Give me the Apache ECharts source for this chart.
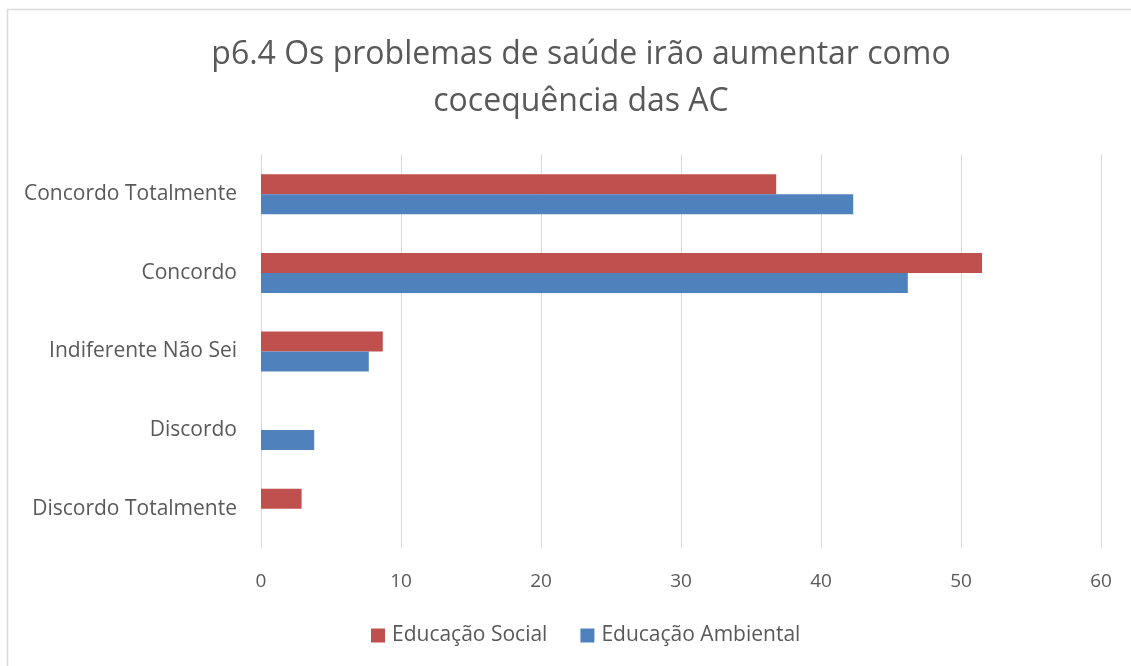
<!DOCTYPE html>
<html>
<head>
<meta charset="utf-8">
<script src="https://cdn.jsdelivr.net/npm/echarts@6/dist/echarts.min.js"></script>
<style>
  html, body { margin: 0; padding: 0; background: #fff; }
  #chart { width: 1131px; height: 666px; }
</style>
</head>
<body>
<div id="chart"></div>
<script>
var categories = ['Concordo Totalmente', 'Concordo', 'Indiferente Não Sei', 'Discordo', 'Discordo Totalmente'];
var seriesNames = ['Educação Social', 'Educação Ambiental'];
var social = [36.8, 51.5, 8.7, 0, 2.9];
var ambiental = [42.3, 46.2, 7.7, 3.8, 0];
var xTicks = [0, 10, 20, 30, 40, 50, 60];

var red = '#c0504d';
var blue = '#4f81bd';
var textColor = '#595959';
var fontFam = '"Open Sans", "Noto Sans", sans-serif';

var myChart = echarts.init(document.getElementById('chart'), null, { renderer: 'canvas' });

var option = {
  backgroundColor: '#fff',
  animation: false,
  // chart frame, cropped on the right and bottom
  graphic: [
    {
      type: 'polyline',
      shape: { points: [[7.5, 666], [7.5, 9.5], [1131, 9.5]] },
      style: { fill: 'none', stroke: '#d9d9d9', lineWidth: 1.5 },
      silent: true
    }
  ],
  title: {
    text: 'p6.4 Os problemas de saúde irão aumentar como\ncocequência das AC',
    left: 576,
    top: 26,
    textAlign: 'center',
    textStyle: {
      color: textColor,
      fontSize: 32,
      fontWeight: 'normal',
      fontFamily: fontFam,
      lineHeight: 47
    }
  },
  legend: {
    top: 620,
    left: 366,
    itemWidth: 14,
    itemHeight: 14,
    itemGap: 33,
    icon: 'rect',
    data: seriesNames,
    textStyle: { color: textColor, fontSize: 21, fontFamily: fontFam, padding: [0, 0, 0, 2] }
  },
  grid: { left: 261, right: 30, top: 155, bottom: 118 },
  xAxis: {
    type: 'value',
    min: xTicks[0],
    max: xTicks[xTicks.length - 1],
    interval: 10,
    axisLine: { show: false },
    axisTick: { show: false },
    splitLine: { lineStyle: { color: '#d9d9d9', width: 1 } },
    axisLabel: { color: textColor, fontSize: 19, fontFamily: fontFam, margin: 24 }
  },
  yAxis: {
    type: 'category',
    inverse: true,
    data: categories,
    axisLine: { show: false },
    axisTick: { show: false },
    axisLabel: { color: textColor, fontSize: 21, fontFamily: fontFam, margin: 24 }
  },
  series: [
    {
      name: seriesNames[0],
      type: 'bar',
      data: social,
      barWidth: 20,
      barGap: '0%',
      itemStyle: { color: red }
    },
    {
      name: seriesNames[1],
      type: 'bar',
      data: ambiental,
      barWidth: 20,
      barGap: '0%',
      itemStyle: { color: blue }
    }
  ]
};

myChart.setOption(option);
window.addEventListener('resize', myChart.resize);
</script>
</body>
</html>
